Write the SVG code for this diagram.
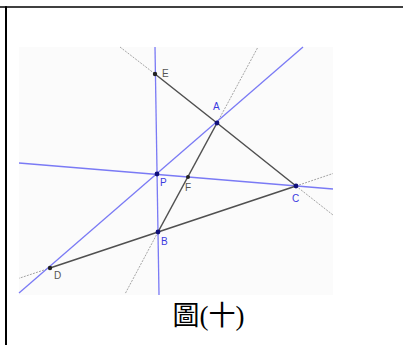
<svg xmlns="http://www.w3.org/2000/svg" width="403" height="345" viewBox="0 0 403 345">
<style>
.frame{stroke:#000;fill:none}
.blue{stroke:#7a7af5;stroke-width:1.3;fill:none}
.seg{stroke:#505050;stroke-width:1.5;fill:none}
.ext{stroke:#9a9a9a;stroke-width:0.9;stroke-dasharray:2 1.2;fill:none}
.bpt{fill:#10107a}
.kpt{fill:#222}
.bl{font-family:"Liberation Sans",Arial,sans-serif;font-size:10px;fill:#3a3ae0}
.kl{font-family:"Liberation Sans",Arial,sans-serif;font-size:10px;fill:#555}
.cap{font-family:"Liberation Serif","Noto Sans CJK TC",serif;font-size:27px;fill:#000}
</style>
<rect width="403" height="345" fill="#fff"/>
<line class="frame" x1="0" y1="7" x2="403" y2="7" stroke-width="1.4"/>
<line class="frame" x1="6" y1="6.3" x2="6" y2="345" stroke-width="2"/>
<rect x="19" y="47" width="314" height="248" fill="#fbfbfb"/>
<g id="connectors">
<line class="ext" x1="120" y1="47" x2="155" y2="74"/>
<line class="ext" x1="296" y1="186" x2="333" y2="215"/>
<line class="ext" x1="217" y1="123" x2="258" y2="47"/>
<line class="ext" x1="158" y1="232" x2="125" y2="294"/>
<line class="ext" x1="296" y1="186" x2="333" y2="173.5"/>
<line class="ext" x1="50" y1="268" x2="19" y2="278.3"/>
<line class="blue" x1="155" y1="47" x2="159" y2="295"/>
<line class="blue" x1="19" y1="293" x2="303" y2="47"/>
<line class="blue" x1="19" y1="163" x2="333" y2="189"/>
<polyline class="seg" points="155,74 217,123 296,186"/>
<line class="seg" x1="217" y1="123" x2="158" y2="232"/>
<line class="seg" x1="50" y1="268" x2="296" y2="186"/>
</g>
<g id="E"><circle class="kpt" cx="155" cy="74" r="2.2"/><text class="kl" x="162" y="77">E</text></g>
<g id="A"><circle class="bpt" cx="217" cy="123" r="2.4"/><text class="bl" x="213" y="110">A</text></g>
<g id="P"><circle class="bpt" cx="157" cy="174" r="2.4"/><text class="bl" x="160" y="186">P</text></g>
<g id="F"><circle class="kpt" cx="188" cy="177" r="2"/><text class="kl" x="185" y="191">F</text></g>
<g id="C"><circle class="bpt" cx="296" cy="186" r="2.4"/><text class="bl" x="292" y="202">C</text></g>
<g id="B"><circle class="bpt" cx="158" cy="232" r="2.4"/><text class="bl" x="161" y="245">B</text></g>
<g id="D"><circle class="kpt" cx="50" cy="268" r="2.2"/><text class="kl" x="54" y="279">D</text></g>
<text class="cap" x="208.5" y="325" text-anchor="middle">圖(十)</text>
</svg>
